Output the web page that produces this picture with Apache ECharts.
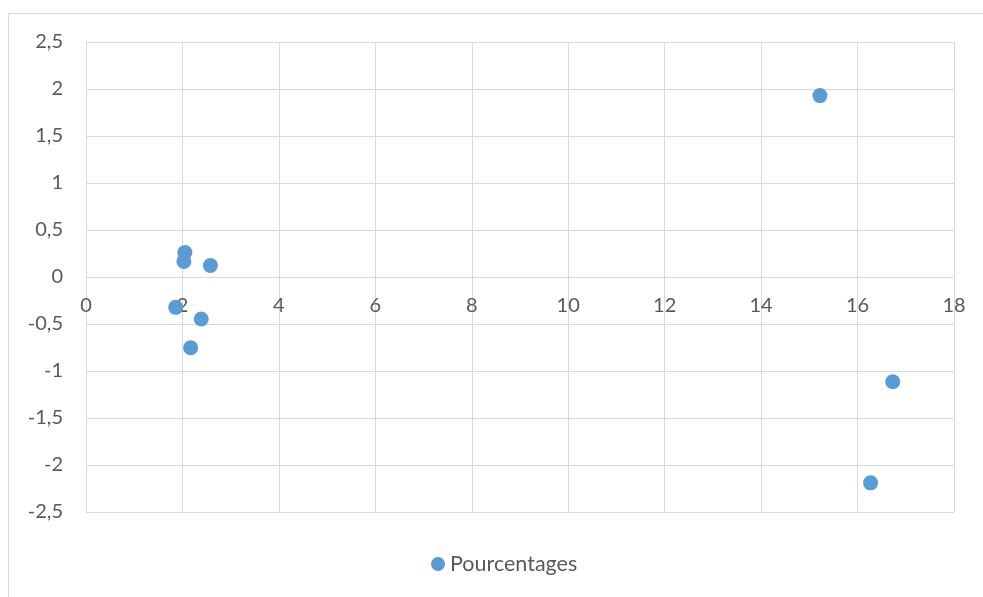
<!DOCTYPE html>
<html>
<head>
<meta charset="utf-8">
<script src="https://cdn.jsdelivr.net/npm/echarts@6/dist/echarts.min.js"></script>
<style>html,body{margin:0;padding:0;background:#fff}#c{width:983px;height:597px}</style>
</head>
<body>
<div id="c"></div>
<script>
const seriesName = 'Pourcentages';
const xValues = [2.05, 2.03, 2.58, 1.86, 2.39, 2.17, 15.22, 16.73, 16.27];
const yValues = [0.26, 0.166, 0.123, -0.323, -0.447, -0.752, 1.93, -1.114, -2.19];
const xTicks = [0, 2, 4, 6, 8, 10, 12, 14, 16, 18];
const yTicks = [-2.5, -2, -1.5, -1, -0.5, 0, 0.5, 1, 1.5, 2, 2.5];

const fmt = v => String(v).replace('.', ',');
const chart = echarts.init(document.getElementById('c'), null, {renderer: 'canvas'});
const txt = {color: '#595959', fontSize: 20, fontFamily: 'Lato, sans-serif'};
chart.setOption({
  animation: false,
  backgroundColor: '#fff',
  graphic: [{type: 'rect', shape: {x: 8.5, y: 13.5, width: 1200, height: 1200}, style: {fill: 'none', stroke: '#d9d9d9', lineWidth: 1}, silent: true}],
  grid: {left: 86, right: 29, top: 42, bottom: 85, containLabel: false},
  xAxis: {
    type: 'value', min: xTicks[0], max: xTicks[xTicks.length - 1], interval: 2,
    position: 'bottom', offset: -235,
    axisLine: {show: true, onZero: false, lineStyle: {color: '#d9d9d9', width: 1}},
    axisTick: {show: false},
    splitLine: {show: true, lineStyle: {color: '#d9d9d9', width: 1}},
    axisLabel: Object.assign({margin: 19, formatter: fmt, showMinLabel: true, showMaxLabel: true}, txt)
  },
  yAxis: {
    type: 'value', min: yTicks[0], max: yTicks[yTicks.length - 1], interval: 0.5,
    axisLine: {show: true, onZero: false, lineStyle: {color: '#d9d9d9', width: 1}},
    axisTick: {show: false},
    splitLine: {show: true, lineStyle: {color: '#d9d9d9', width: 1}},
    axisLabel: Object.assign({margin: 23, formatter: fmt, padding: [4, 0, 0, 0]}, txt)
  },
  legend: {
    bottom: 17, left: 426, icon: 'circle', itemWidth: 14, itemHeight: 14, itemGap: 7,
    textStyle: Object.assign({}, txt, {fontSize: 21.5}),
    data: [seriesName]
  },
  series: [{
    name: seriesName, type: 'scatter', symbol: 'circle', symbolSize: 15,
    itemStyle: {color: '#5B9BD5', opacity: 1},
    data: xValues.map((x, i) => [x, yValues[i]])
  }]
});
</script>
</body>
</html>
